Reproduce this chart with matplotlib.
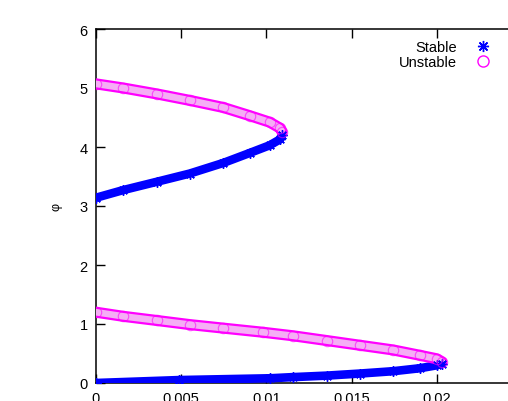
import matplotlib
matplotlib.use("Agg")
import matplotlib.pyplot as plt
from matplotlib.lines import Line2D

# Data
eps_upper_stable = [0.0, 0.0016, 0.00356, 0.0055, 0.00747, 0.00903, 0.0102, 0.0108, 0.01092]
phi_upper_stable = [3.14, 3.27, 3.41, 3.55, 3.73, 3.90, 4.03, 4.13, 4.20]

eps_upper_unstable = [0.0, 0.0016, 0.00356, 0.0055, 0.00747, 0.00903, 0.0102, 0.0108, 0.01092]
phi_upper_unstable = [5.07, 5.00, 4.90, 4.79, 4.67, 4.53, 4.42, 4.32, 4.26]

eps_lower_stable = [0.0, 0.0049, 0.0102, 0.01157, 0.01353, 0.01548, 0.01744, 0.0190, 0.0200, 0.0203]
phi_lower_stable = [0.0, 0.05, 0.08, 0.10, 0.125, 0.16, 0.20, 0.25, 0.30, 0.33]

eps_lower_unstable = [0.0, 0.0016, 0.00356, 0.0055, 0.00747, 0.0098, 0.01157, 0.01353,
                      0.01548, 0.01744, 0.0190, 0.0200, 0.0203]
phi_lower_unstable = [1.20, 1.13, 1.06, 0.99, 0.93, 0.86, 0.80, 0.72,
                      0.64, 0.56, 0.47, 0.41, 0.36]

xticks = [0, 0.005, 0.01, 0.015, 0.02, 0.025]
xtick_labels = ["0", "0.005", "0.01", "0.015", "0.02", ""]
yticks = [0, 1, 2, 3, 4, 5, 6]

plt.rcParams['font.family'] = ['Liberation Sans', 'DejaVu Sans']

W, H = 508, 402
fig = plt.figure(figsize=(W / 100, H / 100), dpi=100)
left, right, top, bottom = 96, 522, 30, 384
ax = fig.add_axes([left / W, 1 - bottom / H, (right - left) / W, (bottom - top) / H])

BLUE = '#0000ff'
MAG = '#ff00ff'
PINK = '#f5aef5'

def stable(x, y):
    ax.plot(x, y, color=BLUE, lw=6.2, solid_capstyle='round', zorder=3)
    ax.plot(x, y, ls='none', marker=(8, 2, 0), ms=7.5, mec=BLUE, mew=1.0, zorder=4)

def unstable(x, y):
    ax.plot(x, y, color=MAG, lw=8.0, solid_capstyle='round', zorder=3)
    ax.plot(x, y, color=PINK, lw=4.8, solid_capstyle='round', zorder=3)
    ax.plot(x, y, ls='none', marker='o', ms=7.5, mfc='none', mec=MAG, mew=0.8,
            alpha=0.6, zorder=4)

stable(eps_upper_stable, phi_upper_stable)
unstable(eps_upper_unstable, phi_upper_unstable)
stable(eps_lower_stable, phi_lower_stable)
unstable(eps_lower_unstable, phi_lower_unstable)

ax.set_xlim(0, 0.025)
ax.set_ylim(0, 6)
ax.set_xticks(xticks)
ax.set_xticklabels(xtick_labels)
ax.set_yticks(yticks)
ax.tick_params(direction='in', length=6.5, width=1.0, top=True, right=True,
               labelsize=10.5, pad=6)
for s in ax.spines.values():
    s.set_linewidth(1.1)

ax.set_ylabel('φ', fontsize=9, labelpad=12)

handles = [Line2D([], [], ls='none', marker=(8, 2, 0), ms=8, mec=BLUE, mew=1.0),
           Line2D([], [], ls='none', marker='o', ms=8, mfc='none', mec=MAG, mew=1.0)]
ax.legend(handles, ['Stable', 'Unstable'], loc='upper right', frameon=False,
          markerfirst=False, fontsize=10.5, handlelength=1.5, handletextpad=1.0,
          labelspacing=0.05, borderpad=0,
          bbox_to_anchor=(501 / W, 1 - 34 / H), bbox_transform=fig.transFigure)

fig.savefig('out.png', dpi=100)
